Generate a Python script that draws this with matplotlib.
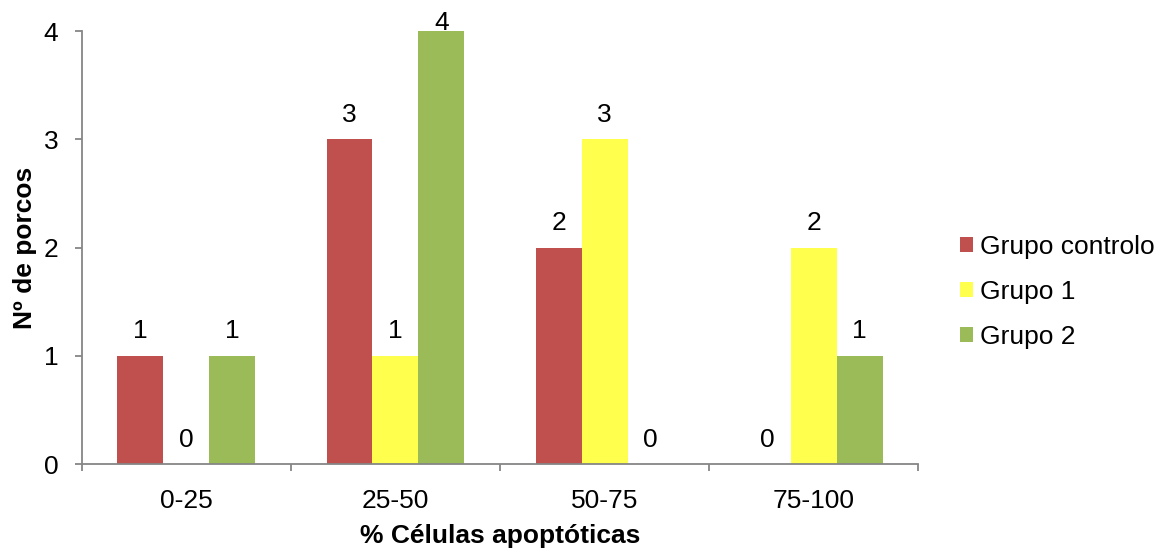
import matplotlib
matplotlib.use("Agg")
import matplotlib.pyplot as plt
import numpy as np

plt.rcParams['font.family'] = ['Liberation Sans', 'DejaVu Sans']

categories = ["0-25", "25-50", "50-75", "75-100"]
series_names = ["Grupo controlo", "Grupo 1", "Grupo 2"]
grupo_controlo = [1, 3, 2, 0]
grupo_1 = [0, 1, 3, 2]
grupo_2 = [1, 4, 0, 1]
colors = ["#C0504D", "#FFFF4D", "#9BBB59"]
yticks = [0, 1, 2, 3, 4]

fig = plt.figure(figsize=(11.64, 5.49), dpi=100)
ax = fig.add_axes([0.0704, 0.1548, 0.7183, 0.7887])

x = np.arange(len(categories))
width = 0.22
axis_color = "#868686"
fs = 19
ymax = 4

for i, (vals, name, col) in enumerate(zip([grupo_controlo, grupo_1, grupo_2], series_names, colors)):
    pos = x + (i - 1) * width
    ax.bar(pos, vals, width=width, color=col, label=name, linewidth=0)
    for px, v in zip(pos, vals):
        # labels at the top of the value range sit right on the bar
        off = 1 if v >= ymax else 12.5
        ax.annotate(str(v), (px, v), xytext=(0, off), textcoords="offset points",
                    ha="center", va="baseline", fontsize=fs, annotation_clip=False)

ax.set_xlim(-0.5, len(categories) - 0.5)
ax.set_ylim(0, ymax)
ax.set_yticks(yticks)
ax.set_yticklabels([str(t) for t in yticks], fontsize=fs)
ax.set_xticks(x)
ax.set_xticklabels(categories, fontsize=fs)
ax.set_xticks(np.arange(len(categories) + 1) - 0.5, minor=True)
ax.tick_params(axis="x", which="major", length=0, pad=18)
ax.tick_params(axis="x", which="minor", length=5, color=axis_color, width=1.3, direction="out")
ax.tick_params(axis="y", length=5, color=axis_color, width=1.3, direction="out", pad=12)

for s in ["top", "right"]:
    ax.spines[s].set_visible(False)
for s in ["left", "bottom"]:
    ax.spines[s].set_color(axis_color)
    ax.spines[s].set_linewidth(1.3)

ax.set_xlabel("% Células apoptóticas", fontsize=fs, fontweight="bold", labelpad=8)
ax.set_ylabel("Nº de porcos", fontsize=fs, fontweight="bold", labelpad=5)

ax.legend(loc="center left", bbox_to_anchor=(1.05, 0.397), frameon=False, fontsize=fs,
          handlelength=0.5, handleheight=0.5, handletextpad=0.28, labelspacing=0.8,
          borderpad=0, borderaxespad=0)

fig.savefig("out.png", dpi=100)
